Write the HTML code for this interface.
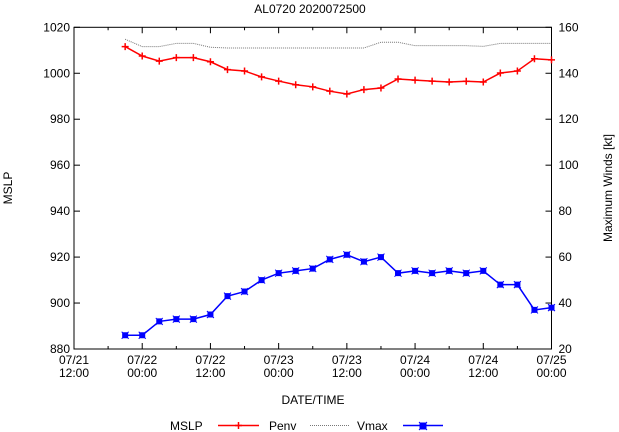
<!DOCTYPE html>
<html><head><meta charset="utf-8"><style>
body{margin:0;background:#fff;width:619px;height:432px;overflow:hidden}
svg{display:block;font-family:"Liberation Sans",sans-serif;font-size:12px}
</style></head><body>
<svg id="c" width="619" height="432">
<text x="310" y="13" text-anchor="middle">AL0720 2020072500</text>
<text transform="translate(12,188) rotate(-90)" text-anchor="middle">MSLP</text>
<text transform="translate(612,188) rotate(-90)" text-anchor="middle">Maximum Winds [kt]</text>
<text x="313" y="404" text-anchor="middle">DATE/TIME</text>
<g>
<text x="170" y="430">MSLP</text>
<line x1="218" y1="425.5" x2="259" y2="425.5" stroke="#f00" stroke-width="1.5"/>
<path d="M238.5 422v7M235 425.5h7" stroke="#f00" stroke-width="1.5"/>
<text x="269" y="430">Penv</text>
<line x1="310" y1="425.5" x2="350" y2="425.5" stroke="#777" stroke-width="1" stroke-dasharray="1,1"/>
<text x="357" y="430">Vmax</text>
<line x1="403" y1="425.5" x2="443" y2="425.5" stroke="#00f" stroke-width="1.5"/>
<path d="M420 423h6v6h-6zM419 422l8 8M427 422l-8 8" fill="#00f" stroke="#00f" stroke-width="1"/>
</g>
</svg>
<script>
const hours=[9,12,15,18,21,24,27,30,33,36,39,42,45,48,51,54,57,60,63,66,69,72,75,78,81,84];
const mslp=[1011.6,1007.5,1005.3,1006.8,1006.8,1005,1001.6,1001,998.4,996.6,995,994.1,992.2,991,992.9,993.6,997.5,997,996.6,996.2,996.5,996.2,1000.1,1001,1006.3,1005.8];
const penv=[1014.8,1011.6,1011.6,1013,1013,1011.3,1011,1011,1011,1011,1011,1011,1011,1011,1011,1013.5,1013.5,1012,1012,1012,1012,1011.7,1013,1013,1013,1013];
const vmax=[26,26,32,33,33,35,43,45,50,53,54,55,59,61,58,60,53,54,53,54,53,54,48,48,37,38];
const yTicks=[880,900,920,940,960,980,1000,1020];
const y2Ticks=[20,40,60,80,100,120,140,160];
const xTickHours=[0,12,24,36,48,60,72,84];
const xTickLabels=[["07/21","12:00"],["07/22","00:00"],["07/22","12:00"],["07/23","00:00"],["07/23","12:00"],["07/24","00:00"],["07/24","12:00"],["07/25","00:00"]];
const L=74,R=551.5,T=27.3,B=349;
const X=h=>L+(R-L)*h/84;
const Y=v=>B-(B-T)*(v-880)/140;
const Y2=v=>B-(B-T)*(v-20)/140;
const svg=document.getElementById('c');
const NS='http://www.w3.org/2000/svg';
function mk(t,a){const e=document.createElementNS(NS,t);for(const k in a)e.setAttribute(k,a[k]);svg.appendChild(e);return e;}
let ax=mk('rect',{x:L,y:T,width:R-L,height:B-T,fill:'none',stroke:'#000','stroke-width':1});


yTicks.forEach(v=>{const y=Y(v);
 let t=mk('line',{x1:L,x2:L+6,y1:y,y2:y,stroke:'#000'});
 
 
 let s=mk('text',{x:L-4,y:y+4,'text-anchor':'end'});s.textContent=v;
 
 
});
y2Ticks.forEach(v=>{const y=Y2(v);
 let t=mk('line',{x1:R-6,x2:R,y1:y,y2:y,stroke:'#000'});
 
 
 let s=mk('text',{x:R+7,y:y+4});s.textContent=v;
 
 
});
for(let h=0;h<=84;h+=6){const x=X(h);const len=h%12===0?6:3;
 let t=mk('path',{d:`M${x} ${B}v${-len}M${x} ${T}v${len}`,stroke:'#000'});
 
 
}
xTickHours.forEach((h,i)=>{const x=X(h);
 let s=mk('text',{x:x,y:B+15,'text-anchor':'middle'});s.textContent=xTickLabels[i][0];
 
 
 let s2=mk('text',{x:x,y:B+28,'text-anchor':'middle'});s2.textContent=xTickLabels[i][1];
 
 
});
const xs=i=>X(hours[i]);
let pp=mk('polyline',{points:penv.map((v,i)=>xs(i)+','+Y(v)).join(' '),fill:'none',stroke:'#777','stroke-width':1,'stroke-dasharray':'1,1'});


let mp=mk('polyline',{points:mslp.map((v,i)=>xs(i)+','+Y(v)).join(' '),fill:'none',stroke:'#f00','stroke-width':1.5});


mslp.forEach((v,i)=>{const x=xs(i),y=Y(v);
 let m=mk('path',{d:`M${x} ${y-3.5}v7M${x-3.5} ${y}h7`,stroke:'#f00','stroke-width':1.5});
 
 
});
let vp=mk('polyline',{points:vmax.map((v,i)=>xs(i)+','+Y2(v)).join(' '),fill:'none',stroke:'#00f','stroke-width':1.5});


vmax.forEach((v,i)=>{const x=xs(i),y=Y2(v);
 let m=mk('path',{d:`M${x-2.5} ${y-2.5}h5v5h-5zM${x-3.5} ${y-3.5}l7 7M${x+3.5} ${y-3.5}l-7 7`,fill:'#00f',stroke:'#00f','stroke-width':1});
 
 
});
</script>
</body></html>
